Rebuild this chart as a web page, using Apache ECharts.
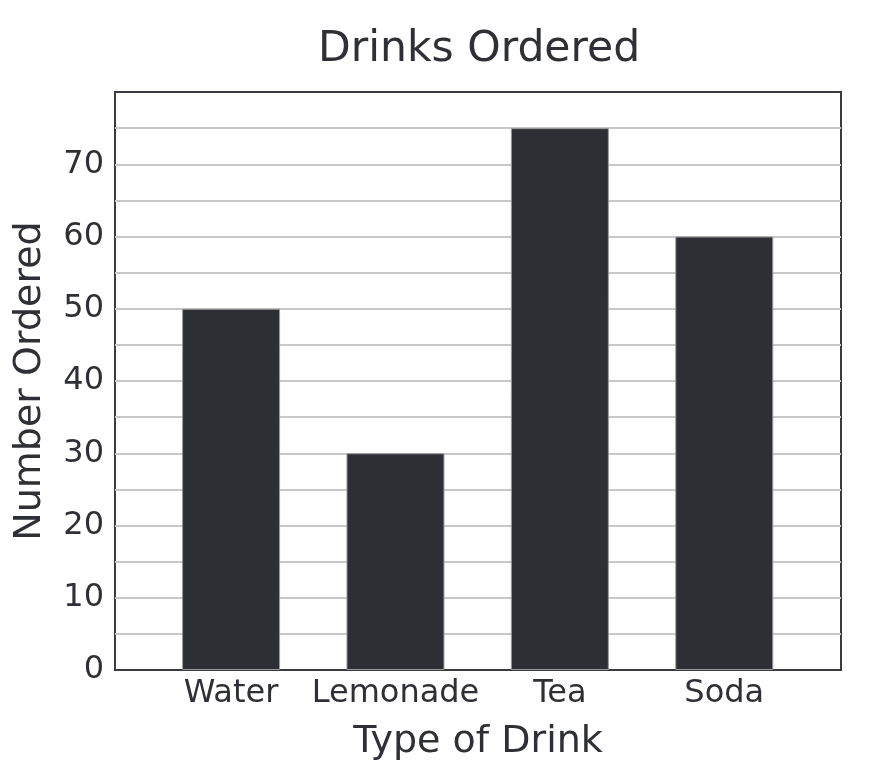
<!DOCTYPE html>
<html>
<head>
<meta charset="utf-8">
<script src="https://cdn.jsdelivr.net/npm/echarts@6/dist/echarts.min.js"></script>
<style>html,body{margin:0;padding:0;background:#fff;}#c{width:872px;height:776px;}</style>
</head>
<body>
<div id="c"></div>
<script>
const categories = ['Water', 'Lemonade', 'Tea', 'Soda'];
const numberOrdered = [50, 30, 75, 60];
const yTickLabels = [0, 10, 20, 30, 40, 50, 60, 70];

const chart = echarts.init(document.getElementById('c'), null, {renderer: 'canvas'});
const font = 'DejaVu Sans';
const txt = '#2f3035';
chart.setOption({
  animation: false,
  backgroundColor: '#ffffff',
  title: {
    text: 'Drinks Ordered',
    left: 313,
    top: 23,
    textStyle: {fontFamily: font, fontSize: 42.5, fontWeight: 'normal', color: txt}
  },
  grid: {
    left: 115, right: 31, top: 92, bottom: 106,
    show: true, borderColor: '#3a3b40', borderWidth: 2, backgroundColor: 'transparent'
  },
  xAxis: {
    type: 'value',
    min: -0.706, max: 3.71,
    name: 'Type of Drink',
    nameLocation: 'middle',
    nameGap: 53,
    nameTextStyle: {fontFamily: font, fontSize: 38, color: txt},
    axisLine: {show: false},
    axisTick: {show: false},
    splitLine: {show: false},
    axisLabel: {
      customValues: categories.map((c, i) => i),
      formatter: v => categories[Math.round(v)] || '',
      fontFamily: font, fontSize: 32, color: txt, margin: 8
    }
  },
  yAxis: {
    type: 'value',
    min: 0, max: 80, interval: 5,
    name: 'Number Ordered',
    nameLocation: 'middle',
    nameGap: 66,
    nameTextStyle: {fontFamily: font, fontSize: 38, color: txt},
    axisLine: {show: false},
    axisTick: {show: false},
    splitLine: {show: true, showMinLine: false, showMaxLine: false, lineStyle: {color: '#c8c8c8', width: 2}},
    axisLabel: {
      formatter: v => yTickLabels.includes(v) ? String(v) : '',
      fontFamily: font, fontSize: 32, color: txt, margin: 11
    }
  },
  series: [{
    type: 'bar',
    data: numberOrdered.map((v, i) => [i, v]),
    barWidth: 98,
    itemStyle: {color: '#2e2f34', borderColor: '#9a9a9a', borderWidth: 1}
  }]
});
</script>
</body>
</html>
